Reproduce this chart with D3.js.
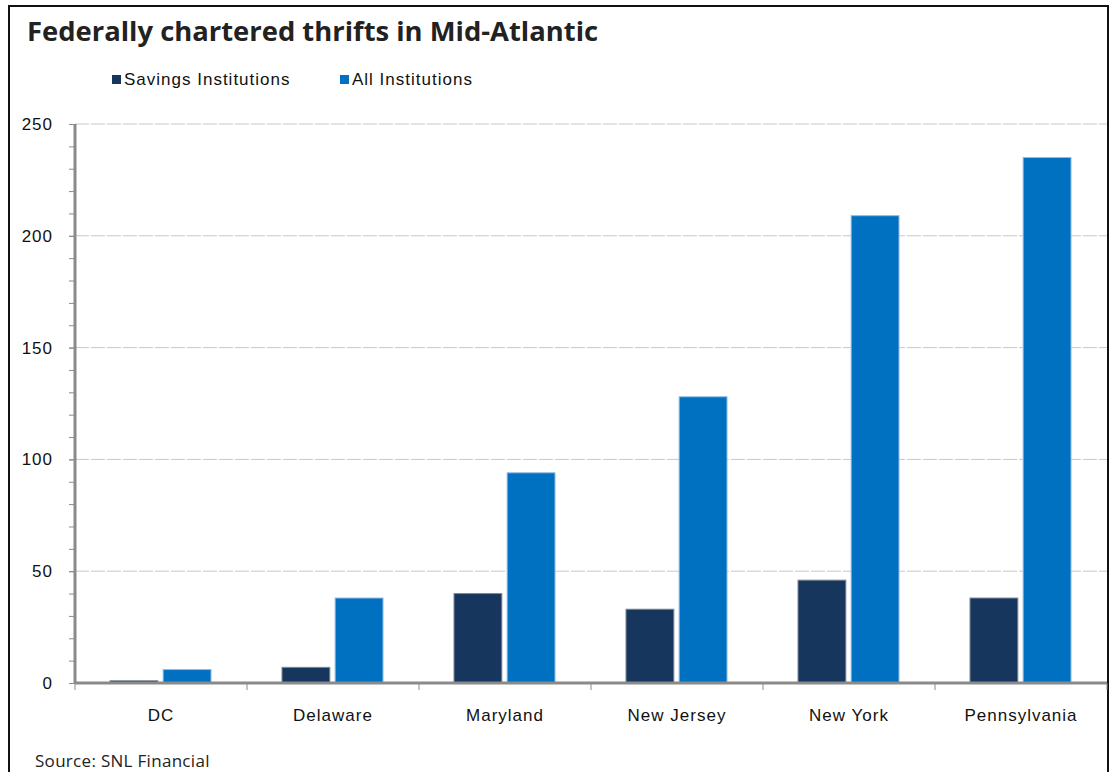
<!DOCTYPE html>
<html>
<head>
<meta charset="utf-8">
<script src="https://cdn.jsdelivr.net/npm/d3@7"></script>
<style>
  html, body { margin: 0; padding: 0; background: #fff; }
  svg { display: block; }
</style>
</head>
<body>
<svg id="chart" width="1110" height="772"></svg>
<script>
const categories = ["DC", "Delaware", "Maryland", "New Jersey", "New York", "Pennsylvania"];
const seriesNames = ["Savings Institutions", "All Institutions"];
const savingsValues = [1, 7, 40, 33, 46, 38];
const allValues = [6, 38, 94, 128, 209, 235];
const yTicks = [0, 50, 100, 150, 200, 250];
const minorTicks = d3.range(0, 251, 10);
const titleText = "Federally chartered thrifts in Mid-Atlantic";
const sourceText = "Source: SNL Financial";

const colors = ["#17365d", "#0070c0"];
const strokes = ["#7f8896", "#8fb9e3"];
const labelFont = "Liberation Sans, Arial, sans-serif";

const svg = d3.select("#chart");

// frame
svg.append("rect").attr("x", 9).attr("y", 6).attr("width", 1099).attr("height", 800)
  .attr("fill", "none").attr("stroke", "#111").attr("stroke-width", 2);

const plotLeft = 75, plotRight = 1107, plotTop = 124, plotBottom = 683;

const x0 = d3.scaleBand().domain(categories).range([plotLeft, plotRight]).padding(0);
const x1 = d3.scaleBand().domain(seriesNames).range([35, 136]).paddingInner(0.1).paddingOuter(0);
const y = d3.scaleLinear().domain([0, 250]).range([plotBottom, plotTop]);

// gridlines
svg.append("g").selectAll("line").data(yTicks.filter(d => d > 0)).join("line")
  .attr("x1", plotLeft).attr("x2", plotRight)
  .attr("y1", d => y(d)).attr("y2", d => y(d))
  .attr("stroke", "#c8c8c8").attr("stroke-width", 1)
  .attr("stroke-dasharray", "14,2");

// bars
const data = categories.map((c, i) => ({ cat: c, vals: [savingsValues[i], allValues[i]] }));
const groups = svg.append("g").selectAll("g").data(data).join("g")
  .attr("transform", d => `translate(${x0(d.cat)},0)`);
groups.selectAll("rect").data(d => d.vals.map((v, j) => ({ v, s: seriesNames[j], j })))
  .join("rect")
  .attr("x", d => x1(d.s))
  .attr("width", x1.bandwidth())
  .attr("y", d => y(d.v))
  .attr("height", d => y(0) - y(d.v))
  .attr("fill", d => colors[d.j])
  .attr("stroke", d => strokes[d.j])
  .attr("stroke-width", 1);

// y axis minor ticks
const yAxisMinor = d3.axisLeft(y).tickValues(minorTicks).tickSize(6).tickFormat("");
const gMinor = svg.append("g").attr("transform", `translate(${plotLeft},0)`).call(yAxisMinor);
gMinor.select(".domain").remove();
gMinor.selectAll("line").attr("stroke", "#8a8a8a").attr("stroke-width", 1);

// y axis labels
const yAxis = d3.axisLeft(y).tickValues(yTicks).tickSize(6).tickPadding(16).tickFormat(d3.format("d"));
const gy = svg.append("g").attr("transform", `translate(${plotLeft},0)`).call(yAxis);
gy.select(".domain").attr("stroke", "#8a8a8a").attr("stroke-width", 3).attr("d", `M0,${plotTop}V${plotBottom}`);
gy.selectAll("line").attr("stroke", "#8a8a8a");
gy.selectAll("text").attr("font-family", labelFont)
  .attr("font-size", 17).attr("letter-spacing", 1).attr("fill", "#111");

// x axis
const xEdge = d3.scaleLinear().domain([0, categories.length]).range([plotLeft, plotRight]);
const gx = svg.append("g").attr("transform", `translate(0,${plotBottom})`);
gx.append("line").attr("x1", plotLeft).attr("x2", plotRight).attr("y1", 0).attr("y2", 0)
  .attr("stroke", "#8a8a8a").attr("stroke-width", 3);
gx.selectAll("line.tick").data(d3.range(0, categories.length + 1)).join("line")
  .attr("class", "tick")
  .attr("x1", d => xEdge(d)).attr("x2", d => xEdge(d))
  .attr("y1", 0).attr("y2", 7)
  .attr("stroke", "#8a8a8a").attr("stroke-width", 1);
gx.selectAll("text").data(categories).join("text")
  .attr("x", d => x0(d) + x0.bandwidth() / 2)
  .attr("y", 38)
  .attr("text-anchor", "middle")
  .attr("font-family", labelFont)
  .attr("font-size", 17).attr("letter-spacing", 1).attr("fill", "#111")
  .text(d => d);

// title
svg.append("text").attr("x", 27).attr("y", 41)
  .attr("font-family", "Open Sans, sans-serif").attr("font-weight", "bold")
  .attr("font-size", 27.4).attr("fill", "#222")
  .text(titleText);

// legend
const legendX = [112, 340];
const lg = svg.append("g").selectAll("g").data(seriesNames).join("g")
  .attr("transform", (d, i) => `translate(${legendX[i]},74)`);
lg.append("rect").attr("width", 9).attr("height", 9).attr("y", 1)
  .attr("fill", (d, i) => colors[i]);
lg.append("text").attr("x", 12).attr("y", 11)
  .attr("font-family", labelFont)
  .attr("font-size", 17).attr("letter-spacing", 1).attr("fill", "#111")
  .text(d => d);

// source
svg.append("text").attr("x", 35).attr("y", 767)
  .attr("font-family", "Open Sans, sans-serif")
  .attr("font-size", 17).attr("letter-spacing", 0.3).attr("fill", "#222")
  .text(sourceText);
</script>
</body>
</html>
